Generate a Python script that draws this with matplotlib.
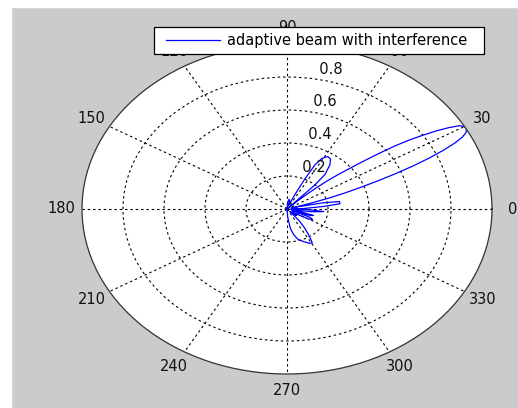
import numpy as np
import matplotlib
matplotlib.use("Agg")
import matplotlib.pyplot as plt
from matplotlib.patches import Rectangle

plt.rcParams["font.family"] = ["DejaVu Sans"]

# ===== Beam pattern (angle in deg, normalised gain) =====
theta_deg = [-90, -86, -82, -78, -74, -70, -66, -62, -59, -56, -53, -50, -47,
             -44, -40, -36, -33, -30, -27, -24, -22, -19, -17, -14, -11,
             -8, -5, -2, 0, 2, 5, 7, 10, 12, 14, 15,
             16, 17, 18, 19, 20, 21, 22, 23, 24, 25, 26, 27, 28, 29, 30,
             31, 32, 33, 34, 35, 36, 37, 38, 39, 40, 41, 42, 43, 44, 45,
             47, 48.5, 52, 55, 58, 61, 63, 64.5, 66, 68, 71, 75, 80, 85, 90]
gain = [0.00, 0.05, 0.12, 0.16, 0.19, 0.205, 0.22, 0.235, 0.24, 0.19, 0.14,
        0.09, 0.02, 0.04, 0.06, 0.03, 0.06, 0.12, 0.14, 0.12, 0.03, 0.12,
        0.135, 0.07, 0.02, 0.12, 0.18, 0.10, 0.02, 0.08, 0.18, 0.26, 0.26,
        0.18, 0.06, 0.02,
        0.05, 0.13, 0.22, 0.30, 0.38, 0.47, 0.57, 0.67, 0.76, 0.84, 0.91,
        0.96, 0.99, 1.00, 1.00, 0.98, 0.93, 0.87, 0.80, 0.73, 0.65, 0.55,
        0.46, 0.38, 0.32, 0.26, 0.19, 0.11, 0.04, 0.01,
        0.20, 0.28, 0.34, 0.37, 0.375, 0.35, 0.30, 0.20, 0.10, 0.04, 0.02,
        0.05, 0.06, 0.04, 0.00]

ring_vals = [0.2, 0.4, 0.6, 0.8]
spoke_deg = list(range(0, 360, 30))
legend_label = "adaptive beam with interference"

# ===== Figure =====
fig = plt.figure(figsize=(5.18, 4.08), dpi=100, facecolor="#cbcbcb")
fig.add_artist(Rectangle((0, 1 - 7 / 408), 1, 7 / 408, transform=fig.transFigure,
                         color="white", zorder=-1))
fig.add_artist(Rectangle((0, 0), 11 / 518, 1, transform=fig.transFigure,
                         color="white", zorder=-1))

ax = fig.add_axes([82 / 518, 34 / 408, 410 / 518, 330 / 408], projection="polar")
ax.set_aspect("auto")
ax.set_facecolor("white")
ax.set_ylim(0, 1)

ax.set_xticks(np.deg2rad(spoke_deg))
ax.set_xticklabels([])
ax.set_yticks(ring_vals)
ax.set_yticklabels([])
ax.tick_params(length=0)
ax.grid(True, color="black", linestyle=(0, (2.2, 2.6)), linewidth=0.8)
ax.spines["polar"].set_color("#333333")
ax.spines["polar"].set_linewidth(0.9)

# angle labels at 1.1 * rmax, like matlab's polar()
for d in spoke_deg:
    ax.text(np.deg2rad(d), 1.1, str(d), ha="center", va="center",
            fontsize=10.5, color="#111111", clip_on=False)

# ring labels along 82 deg
for r in ring_vals:
    ax.text(np.deg2rad(82), r + 0.01, "  %g" % r, ha="left", va="bottom",
            fontsize=10.5, color="#111111")

line, = ax.plot(np.deg2rad(theta_deg), gain, color="blue", linewidth=0.9,
                label=legend_label)

# legend box drawn by hand so the padding matches matlab's
fig.add_artist(Rectangle((154 / 518, 1 - 54 / 408), 330 / 518, 27 / 408,
                         transform=fig.transFigure, facecolor="white",
                         edgecolor="black", linewidth=0.9, zorder=4))
fig.legend(handles=[line], loc="center left",
           bbox_to_anchor=(166 / 518, 1 - 40.5 / 408),
           bbox_transform=fig.transFigure, fontsize=10.5, frameon=False,
           borderaxespad=0, borderpad=0, handlelength=3.7,
           handletextpad=0.48)

fig.savefig("out.png", dpi=100, facecolor=fig.get_facecolor())
